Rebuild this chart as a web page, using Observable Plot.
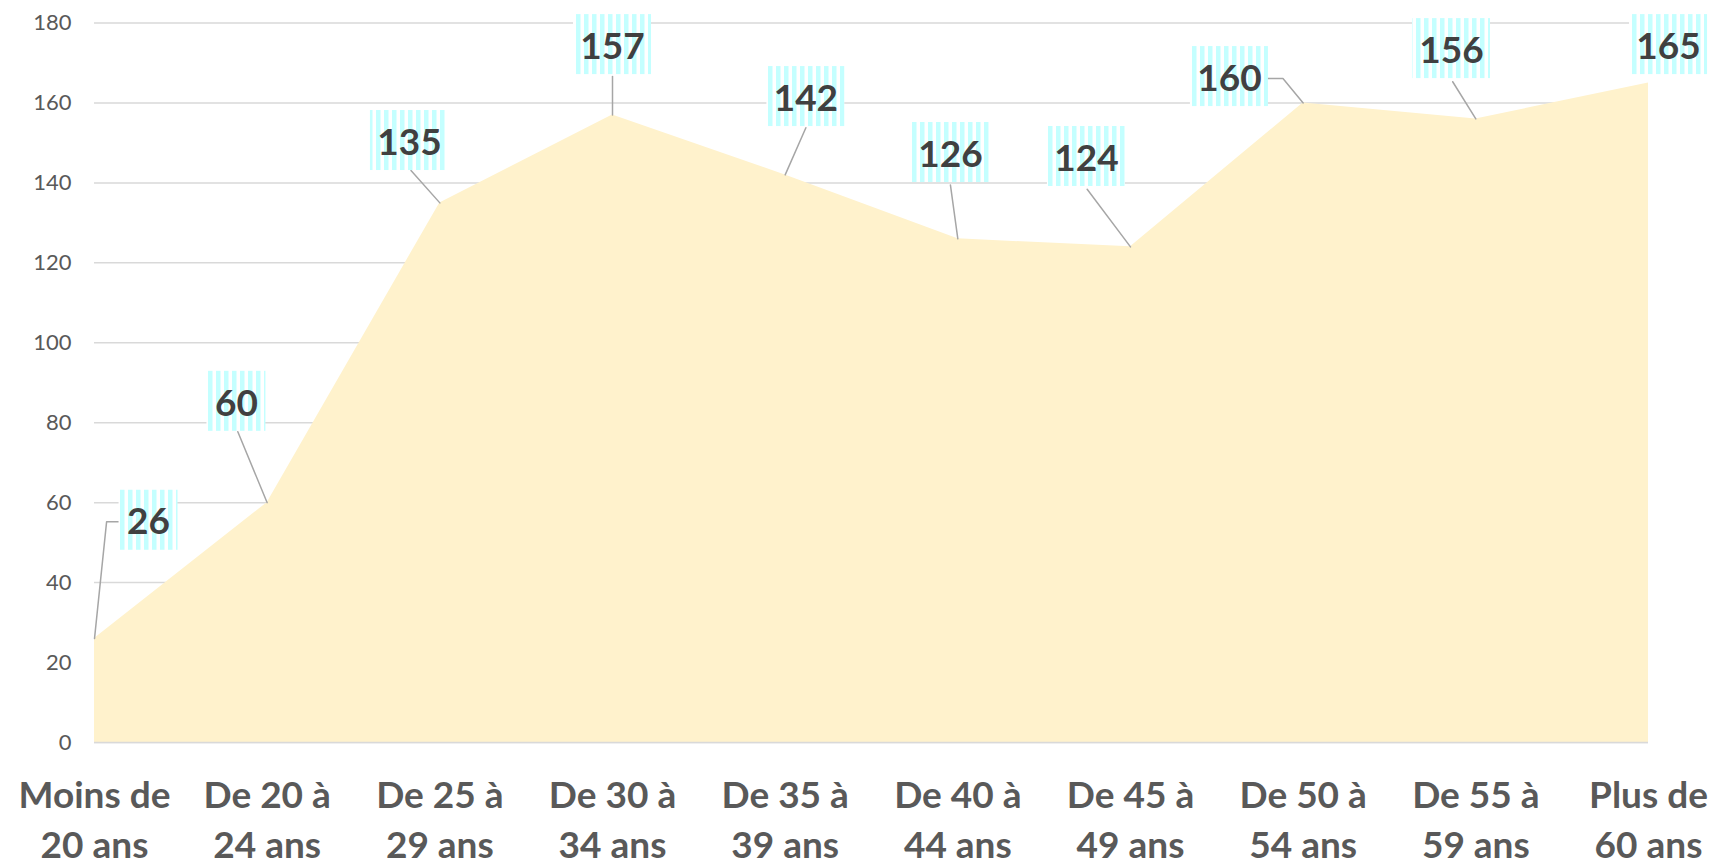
<!DOCTYPE html>
<html>
<head>
<meta charset="utf-8">
<script src="https://cdn.jsdelivr.net/npm/d3@7"></script>
<script src="https://cdn.jsdelivr.net/npm/@observablehq/plot@0.6"></script>
<style>
  html, body { margin: 0; padding: 0; background: #fff; }
</style>
</head>
<body>
<div id="chart"></div>
<script>
// ---- data ----
const categories = [
  "Moins de\n20 ans", "De 20 à\n24 ans", "De 25 à\n29 ans", "De 30 à\n34 ans", "De 35 à\n39 ans",
  "De 40 à\n44 ans", "De 45 à\n49 ans", "De 50 à\n54 ans", "De 55 à\n59 ans", "Plus de\n60 ans"
];
const values = [26, 60, 135, 157, 142, 126, 124, 160, 156, 165];
const yTicks = [0, 20, 40, 60, 80, 100, 120, 140, 160, 180];

// ---- label layout (data units: category index, value) ----
const labelX = [0.313, 0.822, 1.824, 3.0, 4.12, 4.957, 5.745, 6.573, 7.859, 9.116];
const labelY = [55, 84.75, 150, 174, 161, 147, 146, 166, 173, 174];
const leaderPts = [
  [[0.07, 55.2], [0.16, 55.2]],
  [[0.83, 77.75]],
  [[1.833, 143.1]],
  [[3.0, 166.6]],
  [[4.12, 153.8]],
  [[4.957, 139.5]],
  [[5.749, 138.4]],
  [[6.883, 166.1], [6.79, 166.1]],
  [[7.866, 165.3]],
  []
];

// ---- dimensions ----
const W = 1716, H = 865, mL = 94, mR = 68, mT = 22.5, mB = 123;
const xUnitsPerPx = 9 / (W - mL - mR);
const yUnitsPerPx = 180 / (H - mT - mB);

const data = values.map((v, i) => ({i, v}));
const labels = values.map((v, i) => ({x: labelX[i], y: labelY[i], t: String(v)}));
const boxes = labels.map(d => {
  const hw = (d.t.length === 2 ? 59 : 78) / 2 * xUnitsPerPx;
  const hh = 30 * yUnitsPerPx;
  const cy = d.y + 0.6;
  return {x1: d.x - hw, x2: d.x + hw, y1: cy - hh, y2: cy + hh};
});
const leaders = [];
values.forEach((v, i) => {
  if (!leaderPts[i].length) return;
  leaders.push({k: i, x: i, y: v});
  leaderPts[i].forEach(([x, y]) => leaders.push({k: i, x, y}));
});

// stripe pattern defs
const NS = "http://www.w3.org/2000/svg";
function stripeDefs() {
  const defs = document.createElementNS(NS, "defs");
  const pat = document.createElementNS(NS, "pattern");
  pat.setAttribute("id", "stripes");
  pat.setAttribute("patternUnits", "userSpaceOnUse");
  pat.setAttribute("width", "8");
  pat.setAttribute("height", "10");
  const r1 = document.createElementNS(NS, "rect");
  r1.setAttribute("width", "8"); r1.setAttribute("height", "10"); r1.setAttribute("fill", "#ffffff");
  const r2 = document.createElementNS(NS, "rect");
  r2.setAttribute("width", "4.5"); r2.setAttribute("height", "10"); r2.setAttribute("fill", "#c4ffff");
  pat.appendChild(r1); pat.appendChild(r2);
  defs.appendChild(pat);
  return defs;
}

const chart = Plot.plot({
  width: W,
  height: H,
  marginLeft: mL,
  marginRight: mR,
  marginTop: mT,
  marginBottom: mB,
  style: {fontFamily: "Lato, 'Open Sans', sans-serif", color: "#595959", background: "#fff"},
  x: {domain: [0, 9]},
  y: {domain: [0, 180]},
  marks: [
    stripeDefs,
    Plot.gridY({ticks: yTicks, stroke: "#d9d9d9", strokeOpacity: 1, strokeWidth: 1.5}),
    Plot.areaY(data, {x: "i", y: "v", fill: "#fff2cc"}),
    Plot.ruleY([0], {stroke: "#d9d9d9", strokeWidth: 1.5}),
    Plot.axisY({ticks: yTicks, tickSize: 0, tickPadding: 23, fontSize: 22, label: null}),
    Plot.axisX({ticks: d3.range(categories.length), tickFormat: i => categories[i], tickSize: 0,
      tickPadding: 31, fontSize: 37, fontWeight: "bold", lineHeight: 1.33, label: null}),
    Plot.line(leaders, {x: "x", y: "y", z: "k", stroke: "#a6a6a6", strokeWidth: 1.5}),
    Plot.rect(boxes, {x1: "x1", x2: "x2", y1: "y1", y2: "y2", fill: "url(#stripes)"}),
    Plot.text(labels, {x: "x", y: "y", text: "t", fontSize: 37, fontWeight: "bold", fill: "#404040"})
  ]
});
document.getElementById("chart").appendChild(chart);
</script>
</body>
</html>
